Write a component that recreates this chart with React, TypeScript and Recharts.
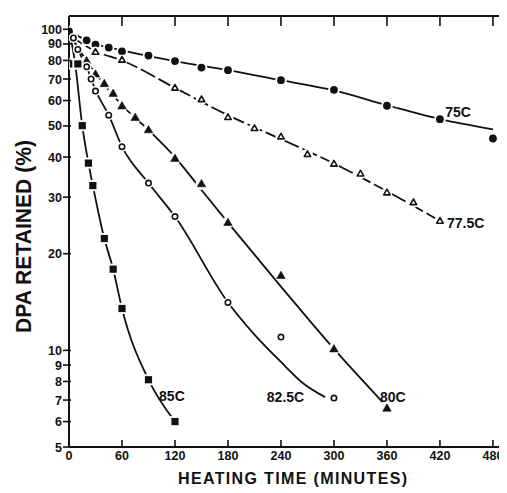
import React from 'react';
import { ComposedChart, Line, Scatter, XAxis, YAxis, ReferenceDot } from 'recharts';

// ---- axis ticks ----
const xTicks = [0, 60, 120, 180, 240, 300, 360, 420, 480];
const topTicks = [60, 120, 180, 240, 300, 360, 420, 480];
const yTicks = [5, 6, 7, 8, 9, 10, 20, 30, 40, 50, 60, 70, 80, 90, 100];

// ---- measured points (minutes, % DPA retained) ----
const t75 = [0, 20, 30, 45, 60, 90, 120, 150, 180, 240, 300, 360, 420, 480];
const v75 = [98.5, 92.4, 89.6, 87.7, 85.4, 82.8, 79.6, 76, 74.6, 69.4, 64.8, 57.8, 52.5, 45.7];
const t775 = [30, 60, 120, 150, 180, 210, 240, 270, 300, 330, 360, 390, 420];
const v775 = [85, 80.3, 65.7, 60.5, 53.2, 49.2, 46.3, 40.8, 38.1, 35.5, 31, 28.9, 25.3];
const t80 = [20, 30, 40, 50, 60, 75, 90, 120, 150, 180, 240, 300, 360];
const v80 = [79.7, 72.5, 67.7, 63.1, 57.7, 53.1, 48.6, 39.6, 33, 25, 17.1, 10.1, 6.6];
const t825 = [5, 10, 20, 25, 30, 45, 60, 90, 120, 180, 240, 300];
const v825 = [94, 86.5, 76.4, 70, 64.2, 54, 43.1, 33.2, 26.1, 14.1, 11, 7.1];
const t85 = [5, 10, 15, 22, 27, 40, 50, 60, 90, 120];
const v85 = [78, 78, 50.1, 38.3, 32.6, 22.3, 17.9, 13.5, 8.1, 6.0];

// ---- drawn curves ----
const fitT75 = [0, 30, 60, 120, 180, 240, 300, 360, 420, 480];
const fitV75 = [98.5, 90, 86, 79.6, 74.6, 69.4, 64.5, 58, 52.5, 48.8];
const fitT775 = [0, 30, 60, 120, 180, 240, 300, 360, 420];
const fitV775 = [96, 85.5, 80, 65.7, 54, 45.5, 38.2, 31.3, 25.3];
const fitT80 = [0, 20, 30, 60, 90, 120, 150, 180, 240, 300, 355];
const fitV80 = [97, 79.7, 73, 58, 48.6, 40, 31.6, 25, 15.8, 10.1, 6.9];
const fitT825 = [0, 5, 10, 20, 30, 45, 60, 90, 120, 180, 210, 240, 265, 290];
const fitV825 = [98, 94, 86.5, 76.4, 64.5, 54, 43.1, 33.2, 26.1, 14.1, 11.2, 9.2, 7.9, 7.15];
const fitT85 = [0, 7, 15, 22, 27, 40, 50, 60, 90, 120];
const fitV85 = [100, 78, 50.1, 38.3, 32.6, 22.3, 17.9, 13.5, 8.1, 6.0];

const seriesNames = ['75C', '77.5C', '80C', '82.5C', '85C'];

const zip = (ts: number[], vs: number[]) => ts.map((t, i) => ({ t, v: vs[i] }));

const FONT = '"Liberation Sans", Arial, Helvetica, sans-serif';
const INK = '#111';

// ---- marker shapes ----
const FilledCircle = (p: any) => {
  const { cx, cy } = p;
  if (cx == null || cy == null) return null;
  return (
    <g>
      <circle cx={cx} cy={cy} r={5.8} fill="#fff" />
      <circle cx={cx} cy={cy} r={3.9} fill={INK} />
    </g>
  );
};
const triPath = (cx: number, cy: number, s: number) => {
  const h = s * 0.866;
  return `M${cx},${cy - h * 0.6} L${cx + s / 2},${cy + h * 0.4} L${cx - s / 2},${cy + h * 0.4} Z`;
};
const OpenTriangle = (p: any) => {
  const { cx, cy } = p;
  if (cx == null || cy == null) return null;
  return (
    <g>
      <circle cx={cx} cy={cy} r={5.5} fill="#fff" />
      <path d={triPath(cx, cy, 6.5)} fill="#fff" stroke={INK} strokeWidth={1.6} strokeLinejoin="round" />
    </g>
  );
};
const FilledTriangle = (p: any) => {
  const { cx, cy } = p;
  if (cx == null || cy == null) return null;
  return (
    <g>
      <circle cx={cx} cy={cy} r={6} fill="#fff" />
      <path d={triPath(cx, cy, 8.5)} fill={INK} stroke={INK} strokeWidth={0.6} />
    </g>
  );
};
const OpenCircle = (p: any) => {
  const { cx, cy } = p;
  if (cx == null || cy == null) return null;
  return (
    <g>
      <circle cx={cx} cy={cy} r={5} fill="#fff" />
      <circle cx={cx} cy={cy} r={2.7} fill="#fff" stroke={INK} strokeWidth={1.6} />
    </g>
  );
};
const FilledSquare = (p: any) => {
  const { cx, cy } = p;
  if (cx == null || cy == null) return null;
  return (
    <g>
      <rect x={cx - 5.5} y={cy - 5.5} width={11} height={11} fill="#fff" />
      <rect x={cx - 3.6} y={cy - 3.6} width={7.2} height={7.2} fill={INK} />
    </g>
  );
};
const NoMark = () => <g />;

// ---- axis ticks ----
const tickText = { fontSize: 12.5, fontWeight: 700, fontFamily: FONT, fill: INK } as const;

const BottomTick = (p: any) => (
  <g>
    <line x1={p.x} x2={p.x} y1={p.y} y2={p.y - 7} stroke={INK} strokeWidth={1.6} />
    <text x={p.x} y={p.y + 13} textAnchor="middle" {...tickText}>
      {p.payload.value}
    </text>
  </g>
);
const TopTick = (p: any) => (
  <line x1={p.x} x2={p.x} y1={p.y} y2={p.y + 10} stroke={INK} strokeWidth={1.6} />
);
const LeftTick = (p: any) => (
  <g>
    <line x1={p.x - 6} x2={p.x + 2} y1={p.y} y2={p.y} stroke={INK} strokeWidth={1.6} />
    <text x={p.x - 7} y={p.y} dy="0.36em" textAnchor="end" {...tickText}>
      {p.payload.value}
    </text>
  </g>
);
const RightTick = (p: any) => (
  <line x1={p.x} x2={p.x + 7} y1={p.y} y2={p.y} stroke={INK} strokeWidth={1.6} />
);

const XTitle = (p: any) => {
  const vb = p.viewBox || {};
  return (
    <text
      x={vb.x + vb.width / 2 + 8}
      y={vb.y + 37}
      textAnchor="middle"
      fontSize={16}
      fontWeight={700}
      fontFamily={FONT}
      fill={INK}
      textLength={229}
      lengthAdjust="spacing"
    >
      HEATING  TIME  (MINUTES)
    </text>
  );
};
const YTitle = (p: any) => {
  const vb = p.viewBox || {};
  const cx = vb.x + 15.3;
  const cy = vb.y + vb.height / 2 + 5;
  return (
    <text
      x={cx}
      y={cy}
      transform={`rotate(-90, ${cx}, ${cy})`}
      textAnchor="middle"
      dominantBaseline="central"
      fontSize={22}
      fontWeight={700}
      fontFamily={FONT}
      fill={INK}
      textLength={193}
      lengthAdjust="spacingAndGlyphs"
    >
      DPA  RETAINED (%)
    </text>
  );
};

const seriesLabel = (text: string) => (p: any) => {
  const vb = p.viewBox || {};
  return (
    <text
      x={vb.x}
      y={vb.y}
      dominantBaseline="central"
      fontSize={14}
      fontWeight={700}
      fontFamily={FONT}
      fill={INK}
    >
      {text}
    </text>
  );
};

// label anchor points (data coordinates)
const labelAnchors = [
  { t: 426, v: 55.4 },
  { t: 428, v: 25.0 },
  { t: 352, v: 7.15 },
  { t: 224, v: 7.14 },
  { t: 102, v: 7.19 },
];

const fits = [
  { data: zip(fitT75, fitV75), dash: undefined },
  { data: zip(fitT775, fitV775), dash: '16 4' },
  { data: zip(fitT80, fitV80), dash: undefined },
  { data: zip(fitT825, fitV825), dash: undefined },
  { data: zip(fitT85, fitV85), dash: undefined },
];
const points = [
  { data: zip(t75, v75), shape: FilledCircle },
  { data: zip(t775, v775), shape: OpenTriangle },
  { data: zip(t80, v80), shape: FilledTriangle },
  { data: zip(t825, v825), shape: OpenCircle },
  { data: zip(t85, v85), shape: FilledSquare },
];

export default function App() {
  return (
    <ComposedChart
      width={499}
      height={485}
      margin={{ top: 7, right: 6, bottom: 16, left: 0 }}
      style={{ background: '#fff' }}
    >
      <XAxis
        xAxisId="b"
        type="number"
        dataKey="t"
        domain={[0, 488]}
        allowDataOverflow
        ticks={xTicks}
        interval={0}
        tickLine={false}
        tickSize={0}
        tickMargin={0}
        height={30}
        axisLine={{ stroke: INK, strokeWidth: 2 }}
        tick={BottomTick}
        label={XTitle}
      />
      <XAxis
        xAxisId="top"
        orientation="top"
        type="number"
        dataKey="t"
        domain={[0, 488]}
        allowDataOverflow
        ticks={topTicks}
        interval={0}
        tickLine={false}
        tickSize={0}
        tickMargin={0}
        height={1}
        axisLine={{ stroke: INK, strokeWidth: 2 }}
        tick={TopTick}
      />
      <YAxis
        yAxisId="l"
        type="number"
        dataKey="v"
        scale="log"
        domain={[5, 110]}
        allowDataOverflow
        ticks={yTicks}
        interval={0}
        tickLine={false}
        tickSize={0}
        tickMargin={0}
        width={61}
        axisLine={{ stroke: INK, strokeWidth: 2 }}
        tick={LeftTick}
        label={YTitle}
      />
      <YAxis
        yAxisId="r"
        orientation="right"
        type="number"
        dataKey="v"
        scale="log"
        domain={[5, 110]}
        allowDataOverflow
        ticks={yTicks}
        interval={0}
        tickLine={false}
        tickSize={0}
        tickMargin={0}
        width={1}
        axisLine={false}
        tick={RightTick}
      />
      {fits.map((f, i) => (
        <Line
          key={'fit' + i}
          xAxisId="b"
          yAxisId="l"
          data={f.data}
          dataKey="v"
          type="monotone"
          stroke={INK}
          strokeWidth={1.8}
          strokeDasharray={f.dash}
          dot={false}
          activeDot={false}
          isAnimationActive={false}
          name={seriesNames[i]}
        />
      ))}
      {points.map((s, i) => (
        <Scatter
          key={'pts' + i}
          xAxisId="b"
          yAxisId="l"
          data={s.data}
          dataKey="v"
          shape={s.shape}
          isAnimationActive={false}
          name={seriesNames[i]}
        />
      ))}
      {/* invisible twin so the mirrored frame axes (top / right) are laid out */}
      <Scatter
        xAxisId="top"
        yAxisId="r"
        data={points[0].data}
        dataKey="v"
        shape={NoMark}
        isAnimationActive={false}
        legendType="none"
      />
      {labelAnchors.map((a, i) => (
        <ReferenceDot
          key={'lab' + i}
          xAxisId="b"
          yAxisId="l"
          x={a.t}
          y={a.v}
          r={0}
          fill="none"
          stroke="none"
          ifOverflow="visible"
          label={seriesLabel(seriesNames[i])}
        />
      ))}
    </ComposedChart>
  );
}
